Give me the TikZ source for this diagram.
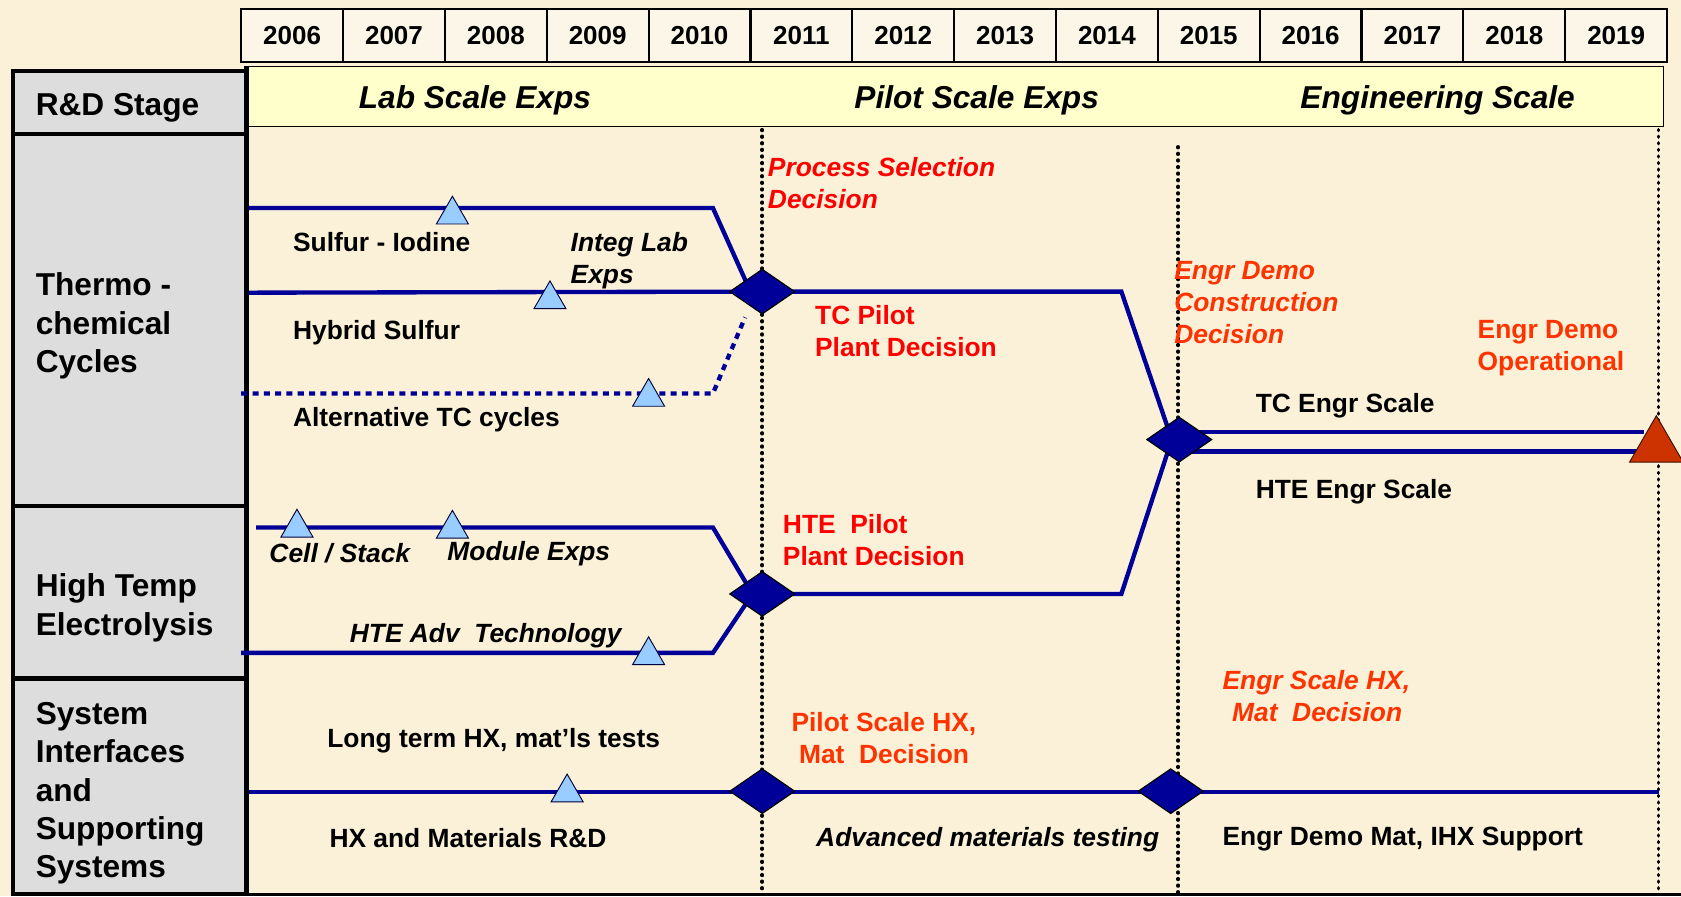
\documentclass[tikz,border=0pt]{standalone}
\usepackage{fontspec}
\setmainfont{Liberation Sans}
\usepackage{tikz}
\usetikzlibrary{shapes.geometric}
\usepackage{xcolor}

\definecolor{parch}{RGB}{250,241,216}
\definecolor{yearfill}{RGB}{252,246,232}
\definecolor{hdryellow}{RGB}{255,255,204}
\definecolor{cellgray}{RGB}{221,221,221}
\definecolor{navy}{RGB}{0,0,153}
\definecolor{skyblue}{RGB}{153,204,255}
\definecolor{decred}{RGB}{255,0,0}
\definecolor{decorange}{RGB}{255,51,0}
\definecolor{rustred}{RGB}{204,51,0}

\begin{document}
\begin{tikzpicture}[x=0.02cm,y=-0.02cm,font=\bfseries\fontsize{14}{17}\selectfont,
  yearbox/.style={draw=black,line width=1.1pt,fill=yearfill,minimum width=1.9cm,minimum height=1cm,inner sep=0pt,font=\bfseries\fontsize{13.8}{16}\selectfont},
  stagename/.style={font=\bfseries\itshape\fontsize{16.8}{20}\selectfont},
  rowlabel/.style={anchor=west,align=left,inner sep=0pt,font=\bfseries\fontsize{16.8}{20.4}\selectfont},
  note/.style={anchor=west,align=left,inner sep=0pt},
  decision/.style={note,text=decred},
  gate/.style={note,text=decorange},
  track/.style={navy,line width=2.3pt},
  yearline/.style={black,line width=1.9pt,line cap=round,dash pattern=on 0.4pt off 3.1pt},
  milestone/.style={diamond,draw=black,line width=0.6pt,fill=navy,minimum width=1.22cm,minimum height=0.84cm,inner sep=0pt},
  labtri/.style={regular polygon,regular polygon sides=3,draw=black!60!navy,line width=0.5pt,fill=skyblue,minimum size=0.69cm,inner sep=0pt},
  demotri/.style={regular polygon,regular polygon sides=3,draw=black!70!rustred,line width=0.5pt,fill=rustred,minimum size=1.155cm,inner sep=0pt}]
\path[use as bounding box,fill=parch] (0,0) rectangle (1568,836);

% years
\node[yearbox] (y06) at (272.5,33) {2006};
\node[yearbox] (y07) at (367.5,33) {2007};
\node[yearbox] (y08) at (462.5,33) {2008};
\node[yearbox] (y09) at (557.5,33) {2009};
\node[yearbox] (y10) at (652.5,33) {2010};
\node[yearbox] (y11) at (747.5,33) {2011};
\node[yearbox] (y12) at (842.5,33) {2012};
\node[yearbox] (y13) at (937.5,33) {2013};
\node[yearbox] (y14) at (1032.5,33) {2014};
\node[yearbox] (y15) at (1127.5,33) {2015};
\node[yearbox] (y16) at (1222.5,33) {2016};
\node[yearbox] (y17) at (1317.5,33) {2017};
\node[yearbox] (y18) at (1412.5,33) {2018};
\node[yearbox] (y19) at (1507.5,33) {2019};

% stage band
\draw[fill=hdryellow,line width=0.6pt] (232,62) rectangle (1552,118);
\node[stagename] (lab) at (443,94) {Lab Scale Exps};
\node[stagename] (pilot) at (911,94) {Pilot Scale Exps};
\node[stagename] (engr) at (1341,94) {Engineering Scale};

% row headings
\fill[cellgray] (12,66) rectangle (230,834);
\draw[line width=2.4pt] (12,66) rectangle (230,834);
\draw[line width=2.4pt] (12,125) -- (230,125);
\draw[line width=2.4pt] (12,472) -- (230,472);
\draw[line width=2.4pt] (12,633) -- (230,633);
\draw[line width=2.4pt] (230,62) -- (230,834);
\draw[line width=1.5pt] (12,834) -- (1568,834);
\node[rowlabel] (rdstage) at (33,101) {R\&D Stage};
\node[rowlabel] (tcrow) at (33,304) {Thermo -\\chemical\\Cycles};
\node[rowlabel] (hterow) at (33,567) {High Temp\\Electrolysis};
\node[rowlabel] (sysrow) at (33,740) {System\\Interfaces\\and\\Supporting\\Systems};

% year gates
\draw[yearline] (711,121) -- (711,834);
\draw[yearline] (1099,137) -- (1099,834);
\draw[yearline] (1547,121) -- (1547,834);

% track labels
\node[note] (silbl) at (273,226) {Sulfur - Iodine};
\node[note,font=\bfseries\itshape\fontsize{14}{17}\selectfont] (integ) at (532,243) {Integ Lab\\Exps};
\node[note] (hslbl) at (273,310) {Hybrid Sulfur};
\node[note] (altlbl) at (273,391) {Alternative TC cycles};
\node[note,font=\bfseries\itshape\fontsize{14}{17}\selectfont] (celllbl) at (251,516) {Cell / Stack};
\node[note,font=\bfseries\itshape\fontsize{14}{17}\selectfont] (modlbl) at (417,516) {Module Exps};
\node[note,font=\bfseries\itshape\fontsize{14}{17}\selectfont] (advlbl) at (326,593) {HTE Adv\ \ Technology};
\node[note] (ltlbl) at (305,691) {Long term HX, mat’ls tests};
\node[note] (hxlbl) at (307,782) {HX and Materials R\&D};
\node[note,font=\bfseries\itshape\fontsize{14}{17}\selectfont] (amlbl) at (761,783) {Advanced materials testing};
\node[note] (edmlbl) at (1140,783) {Engr Demo Mat, IHX Support};
\node[note] (tcelbl) at (1171,378) {TC Engr Scale};
\node[note] (htelbl) at (1171,459) {HTE Engr Scale};

% decisions
\node[decision,font=\bfseries\itshape\fontsize{14}{17}\selectfont] (psdlbl) at (716,171) {Process Selection\\Decision};
\node[decision] (tcplbl) at (760,309) {TC Pilot\\Plant Decision};
\node[decision] (hteplbl) at (730,504) {HTE\ \ Pilot\\Plant Decision};
\node[gate,font=\bfseries\itshape\fontsize{14}{17}\selectfont] (edclbl) at (1095,282) {Engr Demo\\Construction\\Decision};
\node[gate] (edolbl) at (1378,325) {Engr Demo\\Operational};
\node[gate] (pshx1) at (738,675) {Pilot Scale HX,};
\node[gate] (pshx2) at (745,703) {Mat\ \ Decision};
\node[gate,font=\bfseries\itshape\fontsize{14}{17}\selectfont] (eshx1) at (1140,637) {Engr Scale HX,};
\node[gate,font=\bfseries\itshape\fontsize{14}{17}\selectfont] (eshx2) at (1149,664) {Mat\ \ Decision};

% milestone points
\coordinate (psd) at (711,272);
\coordinate (hpd) at (711,554);
\coordinate (edc) at (1100,410);
\coordinate (psx) at (711,738);
\coordinate (esx) at (1092,738);

% bends
\coordinate (si0) at (232,194);
\coordinate (si1) at (665,194);
\coordinate (hs0) at (232,273);
\coordinate (alt0) at (225,367);
\coordinate (alt1) at (665,367);
\coordinate (alt2) at (695,296);
\coordinate (tcin) at (700,272);
\coordinate (tc1) at (1046,272);
\coordinate (cs0) at (239,492);
\coordinate (cs1) at (665,492);
\coordinate (adv0) at (225,609);
\coordinate (adv1) at (665,609);
\coordinate (htin) at (702,554);
\coordinate (ht1) at (1046,554);
\coordinate (egin) at (1093,410);
\coordinate (tce) at (1533,403);
\coordinate (hte) at (1545,421);
\coordinate (hx0) at (232,739);
\coordinate (hx1) at (1547,739);

\draw[track] (si0) -- (si1) -- (tcin);
\draw[track] (hs0) -- (psd);
\draw[track,dash pattern=on 3.2pt off 2.8pt] (alt0) -- (alt1) -- (alt2);
\draw[track] (psd) -- (tc1) -- (egin);
\draw[track] (cs0) -- (cs1) -- (htin);
\draw[track] (adv0) -- (adv1) -- (htin);
\draw[track] (hpd) -- (ht1) -- (egin);
\draw[track] (edc |- tce) -- (tce);
\draw[track] (edc |- hte) -- (hte);
\draw[track] (hx0) -- (hx1);

% lab milestones
\node[labtri] (tri1) at (422,200.3) {};
\node[labtri] (tri2) at (513,279.3) {};
\node[labtri] (tri3) at (605,370.3) {};
\node[labtri] (tri4) at (277,492.3) {};
\node[labtri] (tri5) at (422,493.3) {};
\node[labtri] (tri6) at (605,611.3) {};
\node[labtri] (tri7) at (529,739.3) {};

% decision diamonds
\node[milestone] (dm1) at (psd) {};
\node[milestone] (dm2) at (hpd) {};
\node[milestone] (dm3) at (edc) {};
\node[milestone] (dm4) at (psx) {};
\node[milestone] (dm5) at (esx) {};
\node[demotri] (demo) at (1545,416.6) {};
\end{tikzpicture}
\end{document}
